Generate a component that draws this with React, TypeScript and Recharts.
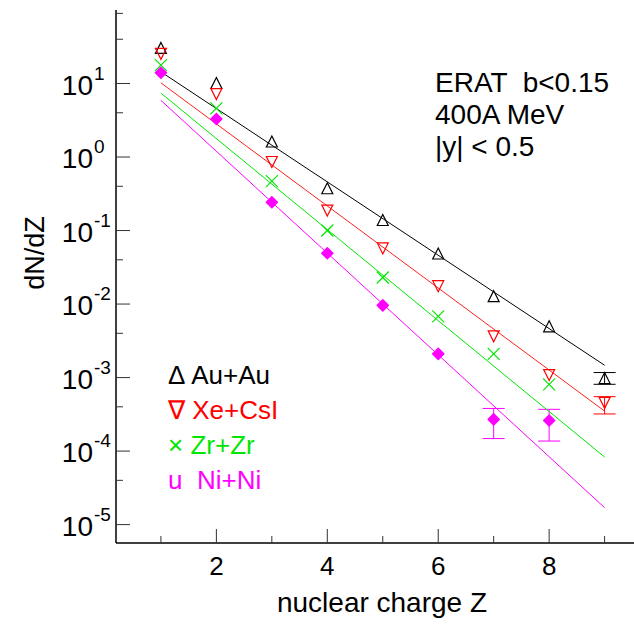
import React from 'react';
import { ComposedChart, Scatter, XAxis, YAxis, ErrorBar } from 'recharts';

// nuclear charge Z of each fragment
const charges = [1, 2, 3, 4, 5, 6, 7, 8, 9];

// dN/dZ per system (mid-rapidity, central collisions)
const auAu = [30, 10, 1.6, 0.37, 0.137, 0.048, 0.0126, 0.0049, 0.00097];
const xeCsI = [25.7, 7.3, 0.87, 0.19, 0.058, 0.0178, 0.0037, 0.0011, 0.00046];
const zrZr = [17.8, 4.6, 0.47, 0.1, 0.023, 0.0068, 0.0021, 0.00081];
const niNi = [14, 3.3, 0.243, 0.049, 0.0096, 0.0021, 0.00027, 0.00026];

// error limits [Z, low, high] where they stick out of the marker
const auAuErr = [[9, 0.00081, 0.00117]];
const xeCsIErr = [[9, 0.00032, 0.00055]];
const niNiErr = [[7, 0.000148, 0.00038], [8, 0.000137, 0.00037]];

// exponential fits: value at Z=1 and Z=9
const fitZ = [1, 9];
const auAuFit = [14.4, 0.00147];
const xeCsIFit = [10.2, 0.00035];
const zrZrFit = [7.4, 0.000083];
const niNiFit = [5.9, 1.7e-5];

const xTickLabels = ['2', '4', '6', '8'];
const yDecades = [-5, -4, -3, -2, -1, 0, 1];

const FONT = '"Liberation Sans", Arial, Helvetica, sans-serif';

const toRows = (vals: number[]) => vals.map((v, i) => ({ z: charges[i], v }));

// only the points that carry an error bar
const errRows = (vals: number[], errs: number[][]) =>
  errs.map(([z, lo, hi]) => {
    const v = vals[charges.indexOf(z)];
    return { z, v, err: [v - lo, hi - v] };
  });

const fitRows = (vals: number[]) => fitZ.map((z, i) => ({ z, v: vals[i] }));

const yTicks: number[] = [];
for (let k = -6; k <= 1; k++) {
  for (let m = 1; m <= 9; m++) {
    const v = m * Math.pow(10, k);
    if (v >= 5.62e-6 && v <= 100) yTicks.push(v);
  }
}

const isDecade = (v: number) => {
  const l = Math.log10(v);
  return Math.abs(l - Math.round(l)) < 1e-6;
};

const TriUp = ({ cx, cy }: any) => (
  <path d={`M${cx},${cy - 6}L${cx + 5.5},${cy + 5}L${cx - 5.5},${cy + 5}Z`} fill="none" stroke="#000" strokeWidth={1.2} />
);
const TriDown = ({ cx, cy }: any) => (
  <path d={`M${cx},${cy + 6}L${cx + 5.5},${cy - 5}L${cx - 5.5},${cy - 5}Z`} fill="none" stroke="#ff0000" strokeWidth={1.2} />
);
const Cross = ({ cx, cy }: any) => (
  <g stroke="#00e600" strokeWidth={1.2}>
    <line x1={cx - 6} y1={cy - 6} x2={cx + 6} y2={cy + 6} />
    <line x1={cx - 6} y1={cy + 6} x2={cx + 6} y2={cy - 6} />
  </g>
);
const Diamond = ({ cx, cy }: any) => (
  <path d={`M${cx},${cy - 5.5}L${cx + 5.5},${cy}L${cx},${cy + 5.5}L${cx - 5.5},${cy}Z`} fill="#ff00ff" stroke="#ff00ff" strokeWidth={1.5} strokeLinejoin="round" />
);
const NoDot = () => <g />;

const BottomTick = ({ x, y, payload }: any) => {
  const major = payload.value % 2 === 0;
  return (
    <g>
      <line x1={x} y1={y} x2={x} y2={y - (major ? 14 : 7)} stroke="#333" strokeWidth={1} />
      {major && (
        <text x={x} y={y + 32} textAnchor="middle" fontSize={26} fontFamily={FONT} fill="#000">
          {xTickLabels[payload.value / 2 - 1]}
        </text>
      )}
    </g>
  );
};

const TopTick = ({ x, y, payload }: any) => {
  const major = payload.value % 2 === 0;
  return <line x1={x} y1={y} x2={x} y2={y + (major ? 13 : 6)} stroke="#333" strokeWidth={1} />;
};

const LeftTick = ({ x, y, payload }: any) => {
  const v = payload.value;
  const major = isDecade(v);
  const exp = Math.round(Math.log10(v));
  return (
    <g>
      <line x1={x} y1={y} x2={x + (major ? 14 : 7)} y2={y} stroke="#333" strokeWidth={1} />
      {major && yDecades.includes(exp) && (
        <g fontFamily={FONT} fill="#000">
          <text x={93} y={y + 11} textAnchor="end" fontSize={28}>10</text>
          <text x={94} y={y - 4} textAnchor="start" fontSize={19}>{String(exp)}</text>
        </g>
      )}
    </g>
  );
};

const legendItems = [
  { text: '\u0394 Au+Au', color: '#000' },
  { text: '\u2207 Xe+CsI', color: '#ff0000' },
  { text: '\u00d7 Zr+Zr', color: '#00e600' },
  { text: 'u  Ni+Ni', color: '#ff00ff' },
];

const infoLines = ['ERAT  b<0.15', '400A MeV', '|y| < 0.5'];

export default function App() {
  return (
    <div style={{ position: 'relative', width: 634, height: 624, background: '#fff' }}>
      <style>{'body{margin:0}'}</style>
      <ComposedChart width={634} height={624} margin={{ top: 10, right: 0, bottom: 0, left: 0 }}>
        <XAxis
          type="number"
          dataKey="z"
          domain={[0.19, 9.53]}
          ticks={charges}
          allowDataOverflow
          height={81}
          tickSize={0}
          tickMargin={0}
          tick={<BottomTick />}
          axisLine={{ stroke: '#000', strokeWidth: 1.5 }}
        />
        <XAxis
          xAxisId="top"
          orientation="top"
          type="number"
          dataKey="z"
          domain={[0.19, 9.53]}
          ticks={charges}
          allowDataOverflow
          height={0}
          tickSize={0}
          tickMargin={0}
          tick={<TopTick />}
          axisLine={{ stroke: '#000', strokeWidth: 1.5 }}
        />
        <YAxis
          type="number"
          dataKey="v"
          scale="log"
          domain={[5.62e-6, 100]}
          ticks={yTicks}
          allowDataOverflow
          width={116}
          tickSize={0}
          tickMargin={0}
          tick={<LeftTick />}
          axisLine={{ stroke: '#000', strokeWidth: 1.5 }}
        />

        <Scatter data={fitRows(auAuFit)} line={{ stroke: '#000', strokeWidth: 1 }} shape={<NoDot />} isAnimationActive={false} />
        <Scatter data={fitRows(xeCsIFit)} line={{ stroke: '#ff2020', strokeWidth: 1 }} shape={<NoDot />} isAnimationActive={false} />
        <Scatter data={fitRows(zrZrFit)} line={{ stroke: '#00e600', strokeWidth: 1 }} shape={<NoDot />} isAnimationActive={false} />
        <Scatter data={fitRows(niNiFit)} line={{ stroke: '#ff00ff', strokeWidth: 1 }} shape={<NoDot />} isAnimationActive={false} />

        <Scatter data={errRows(auAu, auAuErr)} shape={<NoDot />} isAnimationActive={false}>
          <ErrorBar dataKey="err" direction="y" width={11} stroke="#000" strokeWidth={1} />
        </Scatter>
        <Scatter data={errRows(xeCsI, xeCsIErr)} shape={<NoDot />} isAnimationActive={false}>
          <ErrorBar dataKey="err" direction="y" width={11} stroke="#ff0000" strokeWidth={1} />
        </Scatter>
        <Scatter data={errRows(niNi, niNiErr)} shape={<NoDot />} isAnimationActive={false}>
          <ErrorBar dataKey="err" direction="y" width={11} stroke="#ff00ff" strokeWidth={1} />
        </Scatter>

        <Scatter data={toRows(auAu)} shape={<TriUp />} isAnimationActive={false} />
        <Scatter data={toRows(xeCsI)} shape={<TriDown />} isAnimationActive={false} />
        <Scatter data={toRows(zrZr)} shape={<Cross />} isAnimationActive={false} />
        <Scatter data={toRows(niNi)} shape={<Diamond />} isAnimationActive={false} />
      </ComposedChart>

      <svg width={634} height={624} style={{ position: 'absolute', left: 0, top: 0, pointerEvents: 'none' }}>
        <g fontFamily={FONT}>
          {infoLines.map((t, i) => (
            <text key={t} x={435} y={92 + i * 32} fontSize={28} fill="#000" style={{ whiteSpace: 'pre' }}>
              {t}
            </text>
          ))}
          {legendItems.map((it, i) => (
            <text key={it.text} x={168} y={384 + i * 35} fontSize={26} fill={it.color} style={{ whiteSpace: 'pre' }}>
              {it.text}
            </text>
          ))}
          <text x={382} y={612} textAnchor="middle" fontSize={28} fill="#000">
            nuclear charge Z
          </text>
          <text x={44} y={253} textAnchor="middle" fontSize={27} fill="#000" transform="rotate(-90 44 253)">
            dN/dZ
          </text>
        </g>
      </svg>
    </div>
  );
}
